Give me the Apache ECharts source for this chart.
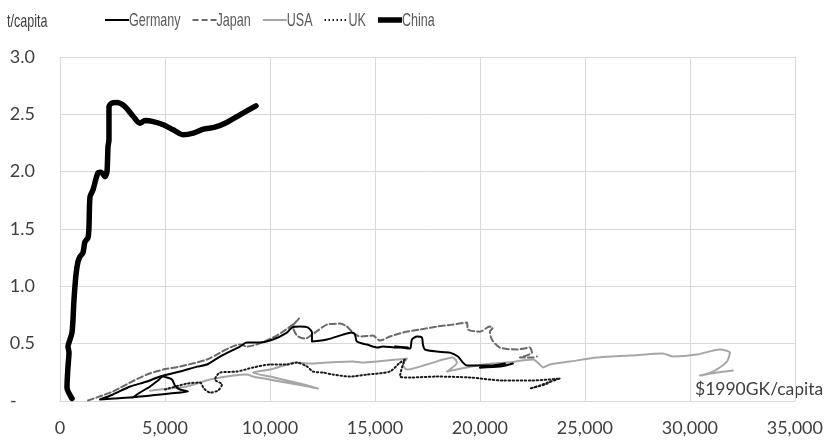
<!DOCTYPE html>
<html>
<head>
<meta charset="utf-8">
<script src="https://cdn.jsdelivr.net/npm/echarts@6/dist/echarts.min.js"></script>
<style>
  html, body { margin: 0; padding: 0; background: #fff; }
  #chart { width: 826px; height: 441px; }
</style>
</head>
<body>
<div id="chart"></div>
<script>
// GDP per capita ($1990 GK) against tonnes per capita, one trajectory per country.
const germany = [
  [3476, 0.030], [3810, 0.074], [4286, 0.126], [4667, 0.179], [4905, 0.214],
  [5095, 0.205], [5333, 0.187], [5476, 0.135], [5714, 0.100], [6095, 0.083],
  [5238, 0.065], [3333, 0.030], [1905, 0.013], [2524, 0.057], [3333, 0.126],
  [4143, 0.170], [4762, 0.214], [5714, 0.257], [6524, 0.300], [7000, 0.318],
  [7619, 0.388], [8571, 0.475], [8905, 0.510], [9524, 0.510], [10143, 0.536],
  [10810, 0.597], [11048, 0.640], [11429, 0.649], [11810, 0.640], [12000, 0.597],
  [12000, 0.518], [12714, 0.536], [13476, 0.579], [13905, 0.597], [14048, 0.579],
  [14143, 0.518], [14619, 0.492], [15143, 0.466], [15381, 0.475], [16048, 0.466],
  [16571, 0.466], [15952, 0.475], [16667, 0.457], [16762, 0.536], [17000, 0.562],
  [17238, 0.553], [17286, 0.492], [17381, 0.449], [17952, 0.431], [18571, 0.422],
  [18952, 0.388], [19190, 0.335], [19381, 0.309], [20476, 0.309], [21190, 0.327],
  [20000, 0.291], [20952, 0.300], [21571, 0.327]
];

const japan = [
  [1333, 0.004], [2524, 0.083], [3333, 0.161], [4143, 0.231], [4905, 0.274],
  [5714, 0.301], [7000, 0.362], [8571, 0.492], [8905, 0.475], [10143, 0.553],
  [11095, 0.666], [11381, 0.719], [11095, 0.649], [11286, 0.571], [11667, 0.544],
  [12143, 0.597], [12714, 0.666], [13333, 0.675], [13667, 0.649], [13952, 0.597],
  [14286, 0.562], [14905, 0.571], [15238, 0.527], [15714, 0.562], [16333, 0.597],
  [17143, 0.623], [17952, 0.649], [18714, 0.666], [19381, 0.684], [19429, 0.623],
  [20000, 0.605], [20476, 0.649], [20619, 0.640], [20476, 0.605], [20571, 0.536],
  [20952, 0.466], [21762, 0.449], [22381, 0.466], [22476, 0.422], [21905, 0.379],
  [22524, 0.379], [22714, 0.388]
];

const usa = [
  [4286, 0.090], [4762, 0.100], [6048, 0.126], [7143, 0.187], [8905, 0.231],
  [9190, 0.213], [10476, 0.170], [11571, 0.135], [12286, 0.109], [11429, 0.152],
  [10000, 0.213], [9190, 0.248], [10000, 0.274], [10810, 0.318], [11190, 0.335],
  [11905, 0.327], [12714, 0.335], [13952, 0.344], [14429, 0.335], [15095, 0.344],
  [16048, 0.361], [16524, 0.370], [16333, 0.318], [16524, 0.274], [17476, 0.318],
  [18714, 0.379], [18905, 0.335], [18429, 0.257], [19381, 0.292], [20143, 0.318],
  [21286, 0.335], [22524, 0.361], [22857, 0.318], [23000, 0.292], [23333, 0.318],
  [24286, 0.344], [25571, 0.379], [27143, 0.396], [28714, 0.414], [29190, 0.388],
  [30333, 0.405], [31429, 0.449], [31905, 0.422], [31762, 0.344], [31095, 0.257],
  [30476, 0.222], [31286, 0.248], [32048, 0.266]
];

const uk = [
  [5000, 0.100], [6048, 0.152], [6667, 0.161], [6857, 0.109], [7143, 0.074],
  [7524, 0.091], [7714, 0.144], [7381, 0.187], [7619, 0.248], [8429, 0.257],
  [9190, 0.292], [10000, 0.318], [10810, 0.318], [11286, 0.335], [11762, 0.301],
  [12048, 0.257], [12524, 0.248], [13000, 0.231], [13810, 0.213], [14619, 0.231],
  [15714, 0.257], [16190, 0.335], [16429, 0.361], [16286, 0.292], [16190, 0.213],
  [16667, 0.205], [17952, 0.213], [19524, 0.205], [21095, 0.179], [22524, 0.179],
  [23810, 0.196], [23238, 0.161], [22857, 0.135], [22381, 0.109], [23095, 0.144],
  [23476, 0.179]
];

const china = [
  [571, 0.022], [333, 0.118], [381, 0.301], [429, 0.423], [381, 0.475],
  [476, 0.536], [571, 0.597], [619, 0.710], [667, 0.884], [762, 1.102],
  [857, 1.215], [952, 1.259], [1095, 1.294], [1190, 1.389], [1333, 1.424],
  [1381, 1.520], [1429, 1.781], [1571, 1.842], [1810, 1.990], [1952, 1.995],
  [2143, 1.956], [2238, 2.000], [2286, 2.217], [2333, 2.278], [2333, 2.565],
  [2462, 2.598], [2700, 2.603], [3095, 2.568], [3490, 2.481], [3810, 2.423],
  [4048, 2.446], [4443, 2.437], [4919, 2.409], [5395, 2.365], [5871, 2.321],
  [6348, 2.336], [6824, 2.371], [7381, 2.388], [7938, 2.429], [8571, 2.496],
  [9333, 2.574]
];

const xTicks = { min: 0, max: 35000, step: 5000 };
const yTicks = { min: 0, max: 3, step: 0.5 };

// Line styles, in legend order.
const countries = [
  { name: 'Germany', data: germany, color: '#000000', width: 2,   dash: 'solid', z: 5 },
  { name: 'Japan',   data: japan,   color: '#6a6a6a', width: 2,   dash: [6, 3],  z: 4 },
  { name: 'USA',     data: usa,     color: '#a6a6a6', width: 2,   dash: 'solid', z: 2 },
  { name: 'UK',      data: uk,      color: '#1a1a1a', width: 2,   dash: [1.5, 2.5], z: 3 },
  { name: 'China',   data: china,   color: '#000000', width: 5.5, dash: 'solid', z: 6 }
];

const labelFont = 'Lato, "Open Sans", sans-serif';
const narrowFamily = '"Liberation Sans", Arial, sans-serif';
const narrowScale = 0.66;   // horizontally condensed legend / unit text
const narrowSize = 19;
const gridColor = '#d9d9d9';
const textColor = '#404040';

const chart = echarts.init(document.getElementById('chart'), null, { renderer: 'canvas' });

// Legend: short line sample followed by condensed name.
const measureCtx = document.createElement('canvas').getContext('2d');
function textWidth(text, size) {
  measureCtx.font = size + 'px ' + narrowFamily;
  return measureCtx.measureText(text).width;
}
const legendY = 20;
const legendGraphics = [];
let cursor = 105;
countries.forEach(c => {
  legendGraphics.push({
    type: 'line',
    shape: { x1: cursor, y1: legendY, x2: cursor + 24, y2: legendY },
    style: { stroke: c.color, lineWidth: c.width, lineDash: c.dash === 'solid' ? null : c.dash }
  });
  cursor += 24;
  legendGraphics.push({
    type: 'text',
    x: cursor,
    y: legendY + 1,
    scaleX: narrowScale,
    style: {
      text: c.name, fontFamily: narrowFamily, fontSize: narrowSize,
      fill: '#595959', verticalAlign: 'middle', align: 'left'
    }
  });
  cursor += textWidth(c.name, narrowSize) * narrowScale + 12;
});

chart.setOption({
  animation: false,
  backgroundColor: '#ffffff',
  grid: { left: 60, right: 31, top: 57, bottom: 40, containLabel: false },
  xAxis: {
    type: 'value',
    min: xTicks.min,
    max: xTicks.max,
    interval: xTicks.step,
    axisLine: { show: true, lineStyle: { color: gridColor, width: 1 } },
    axisTick: { show: false },
    splitLine: { show: true, lineStyle: { color: gridColor, width: 1 } },
    axisLabel: {
      margin: 18,
      fontFamily: labelFont,
      fontSize: 18,
      color: textColor,
      formatter: v => v.toLocaleString('en-US')
    }
  },
  yAxis: {
    type: 'value',
    min: yTicks.min,
    max: yTicks.max,
    interval: yTicks.step,
    axisLine: { show: false },
    axisTick: { show: false },
    splitLine: { show: true, lineStyle: { color: gridColor, width: 1 } },
    axisLabel: {
      margin: 25,
      fontFamily: labelFont,
      fontSize: 18,
      color: textColor,
      formatter: v => (v === 0 ? '-    ' : v.toFixed(1))
    }
  },
  graphic: legendGraphics.concat([
    {
      type: 'text',
      x: 7,
      y: 22,
      scaleX: narrowScale,
      style: {
        text: 't/capita', fontFamily: narrowFamily, fontSize: narrowSize,
        fill: textColor, verticalAlign: 'middle'
      }
    },
    {
      type: 'text',
      left: 695,
      top: 380,
      style: { text: '$1990GK/capita', fontFamily: labelFont, fontSize: 17.5, fill: textColor }
    }
  ]),
  series: countries.map(c => ({
    name: c.name,
    type: 'line',
    data: c.data,
    showSymbol: false,
    symbol: 'none',
    smooth: 0.25,
    z: c.z,
    lineStyle: { color: c.color, width: c.width, type: c.dash, cap: 'round', join: 'round' },
    itemStyle: { color: c.color },
    emphasis: { disabled: true },
    animation: false
  }))
});
</script>
</body>
</html>
